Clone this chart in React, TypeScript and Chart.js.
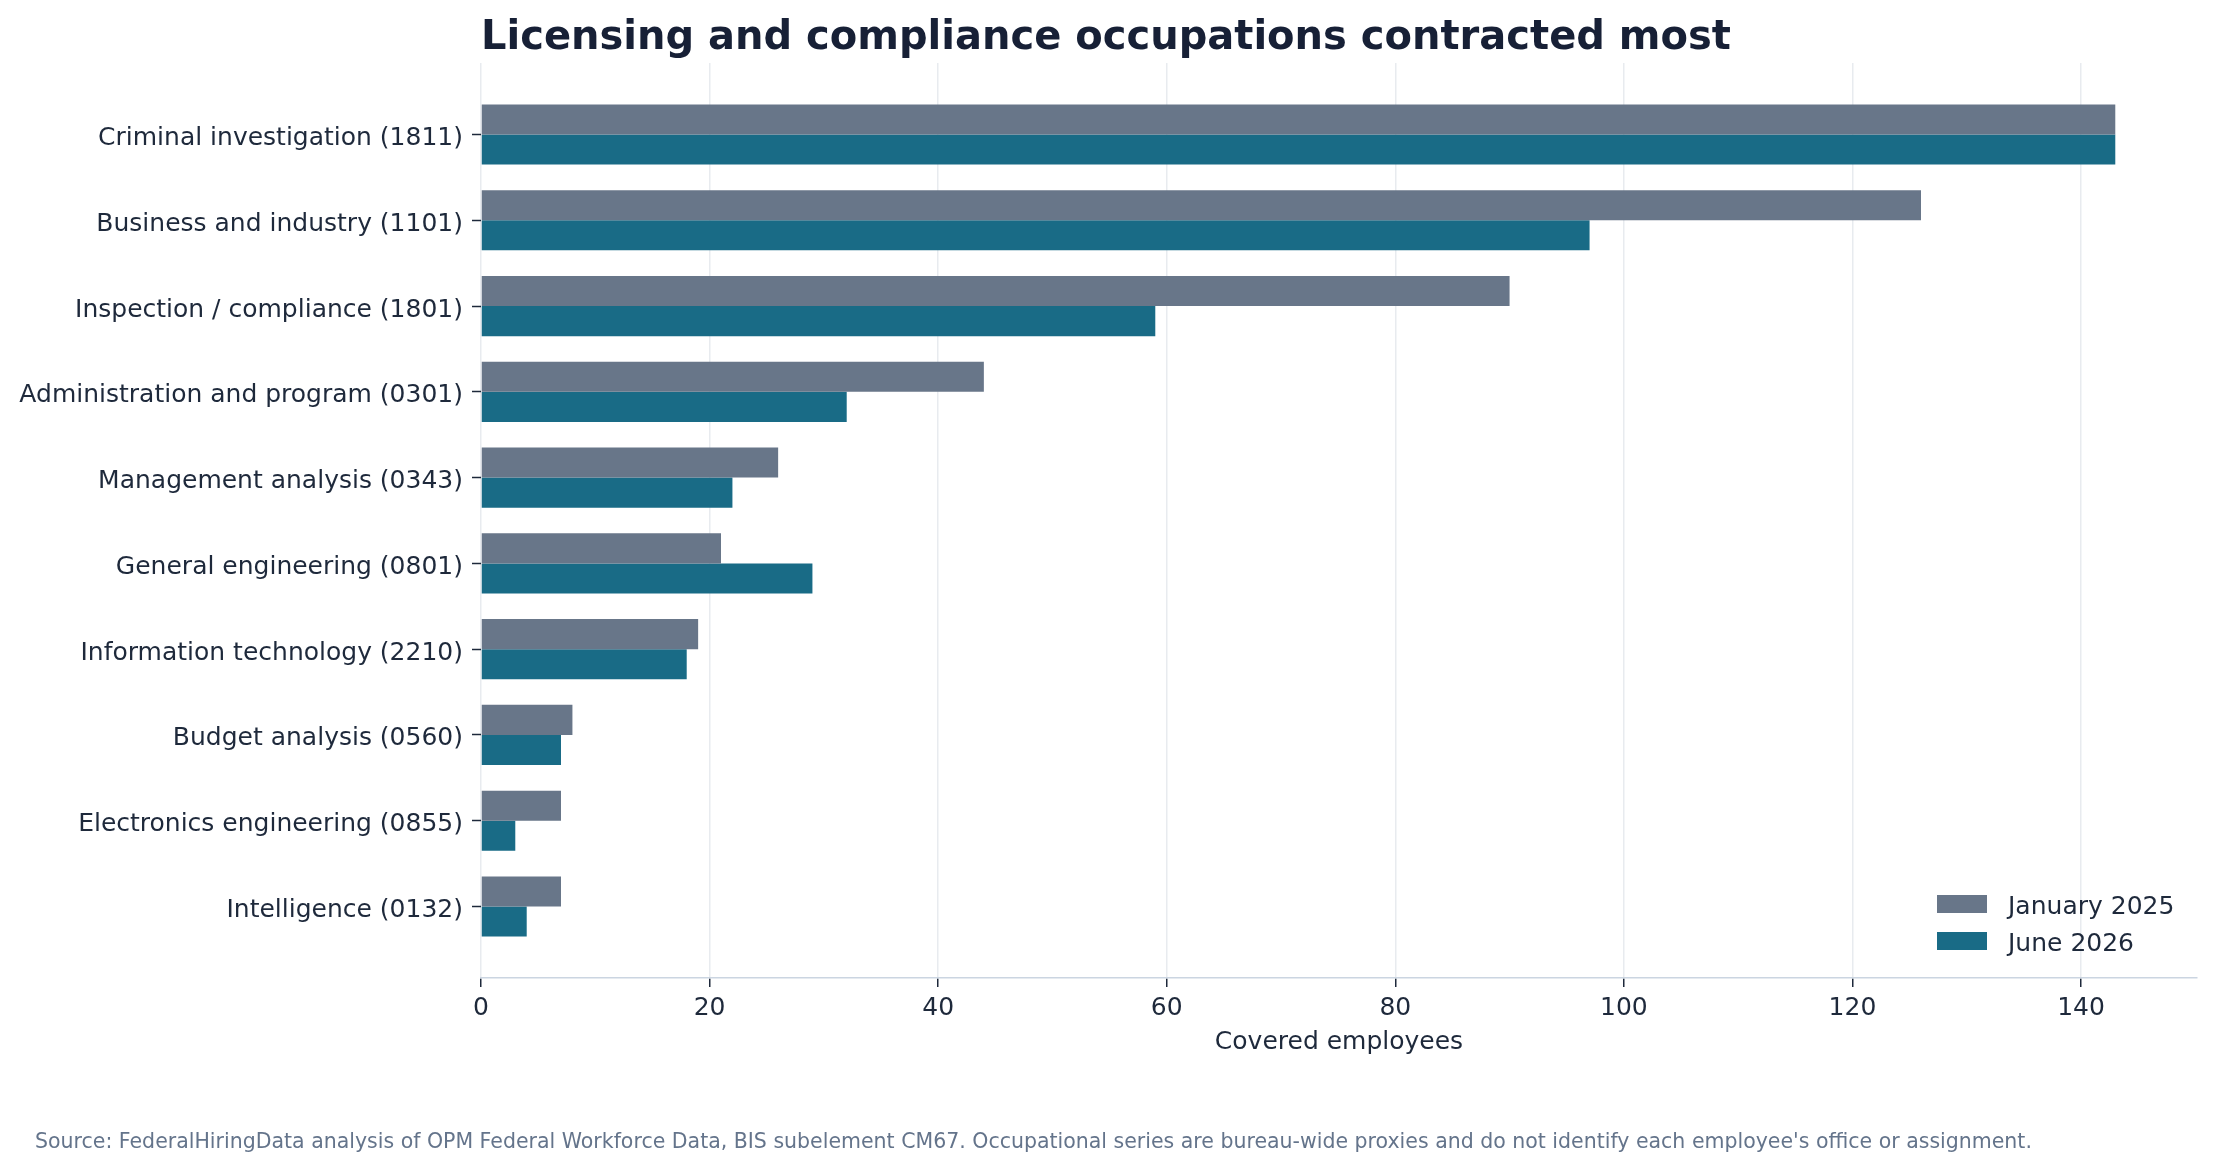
import React, { useEffect, useRef } from "react";
import { Chart, registerables } from "chart.js";

Chart.register(...registerables);

// categories, top to bottom
const occupations = [
  "Criminal investigation (1811)",
  "Business and industry (1101)",
  "Inspection / compliance (1801)",
  "Administration and program (0301)",
  "Management analysis (0343)",
  "General engineering (0801)",
  "Information technology (2210)",
  "Budget analysis (0560)",
  "Electronics engineering (0855)",
  "Intelligence (0132)",
];
const january2025 = [143, 126, 90, 44, 26, 21, 19, 8, 7, 7];
const june2026 = [143, 97, 59, 32, 22, 29, 18, 7, 3, 4];
const seriesNames = ["January 2025", "June 2026"];
const seriesColors = ["#687689", "#196b86"];
const xTickValues = [0, 20, 40, 60, 80, 100, 120, 140];

const FONT = "'DejaVu Sans', sans-serif";
const INK = "#1e293b";
const SOURCE_NOTE =
  "Source: FederalHiringData analysis of OPM Federal Workforce Data, BIS subelement CM67. Occupational series are bureau-wide proxies and do not identify each employee's office or assignment.";

// legend in the lower right corner of the plot
const cornerLegend = {
  id: "cornerLegend",
  afterDraw(chart: any) {
    const { ctx, chartArea } = chart;
    ctx.save();
    ctx.font = `25px ${FONT}`;
    ctx.textBaseline = "middle";
    chart.data.datasets.forEach((ds: any, i: number) => {
      const y = chartArea.bottom - 74 + i * 37;
      ctx.fillStyle = ds.backgroundColor;
      ctx.fillRect(chartArea.right - 260, y - 9, 50, 18);
      ctx.fillStyle = INK;
      ctx.fillText(ds.label, chartArea.right - 189, y + 3);
    });
    ctx.restore();
  },
};

const ContractedChart = () => {
  const canvasRef = useRef<HTMLCanvasElement>(null);

  useEffect(() => {
    if (!canvasRef.current) return;
    const toPoints = (vals: number[]) => vals.map((v, i) => ({ x: v, y: i }));

    const chart = new Chart(canvasRef.current, {
      type: "bar",
      data: {
        datasets: [
          { label: seriesNames[0], data: toPoints(january2025), backgroundColor: seriesColors[0] },
          { label: seriesNames[1], data: toPoints(june2026), backgroundColor: seriesColors[1] },
        ],
      },
      plugins: [cornerLegend],
      options: {
        indexAxis: "y",
        animation: false,
        responsive: true,
        maintainAspectRatio: false,
        layout: { padding: { left: 0, right: 16, top: 0, bottom: 109.4 } },
        datasets: { bar: { categoryPercentage: 0.7, barPercentage: 1, borderWidth: 0 } },
        scales: {
          x: {
            type: "linear",
            min: 0,
            max: 150.15,
            z: 1,
            afterBuildTicks: (scale: any) => {
              scale.ticks = xTickValues.map((v) => ({ value: v }));
            },
            afterFit: (scale: any) => {
              scale.height = 79.6;
            },
            grid: {
              color: "rgba(148,163,184,0.22)",
              lineWidth: 1.5,
              tickLength: 9,
              tickColor: INK,
              tickWidth: 1.5,
            },
            border: { display: true, color: "#cbd5e1", width: 1.5 },
            ticks: { color: INK, font: { family: FONT, size: 25 }, padding: 6, maxRotation: 0 },
            title: {
              display: true,
              text: "Covered employees",
              color: INK,
              font: { family: FONT, size: 25 },
              padding: { top: 0, bottom: 0 },
            },
          },
          y: {
            type: "linear",
            reverse: true,
            offset: false,
            min: -0.835,
            max: 9.835,
            afterBuildTicks: (scale: any) => {
              scale.ticks = occupations.map((_, i) => ({ value: i }));
            },
            afterFit: (scale: any) => {
              scale.width = 481;
            },
            grid: {
              offset: false,
              drawOnChartArea: false,
              tickLength: 9,
              tickColor: INK,
              tickWidth: 1.5,
            },
            border: { display: false },
            ticks: {
              color: INK,
              font: { family: FONT, size: 25 },
              padding: 9,
              labelOffset: 4,
              autoSkip: false,
              callback: (value: any) => occupations[value as number] ?? "",
            },
          },
        },
        plugins: {
          legend: { display: false },
          tooltip: { enabled: false },
          title: {
            display: true,
            text: "Licensing and compliance occupations contracted most",
            align: "start",
            fullSize: false,
            color: "#172036",
            font: { family: FONT, size: 40, weight: "bold" },
            padding: { top: 15, bottom: 0 },
          },
        },
      },
    } as any);

    return () => chart.destroy();
  }, []);

  return <canvas ref={canvasRef} />;
};

export default function App() {
  return (
    <div
      style={{
        position: "absolute",
        left: 0,
        top: 0,
        width: 2213,
        height: 1167,
        background: "#ffffff",
      }}
    >
      <ContractedChart />
      <div
        style={{
          position: "absolute",
          left: 35,
          top: 1129,
          fontFamily: FONT,
          fontSize: 20.5,
          lineHeight: "24.6px",
          color: "#64748b",
          whiteSpace: "nowrap",
        }}
      >
        {SOURCE_NOTE}
      </div>
    </div>
  );
}
